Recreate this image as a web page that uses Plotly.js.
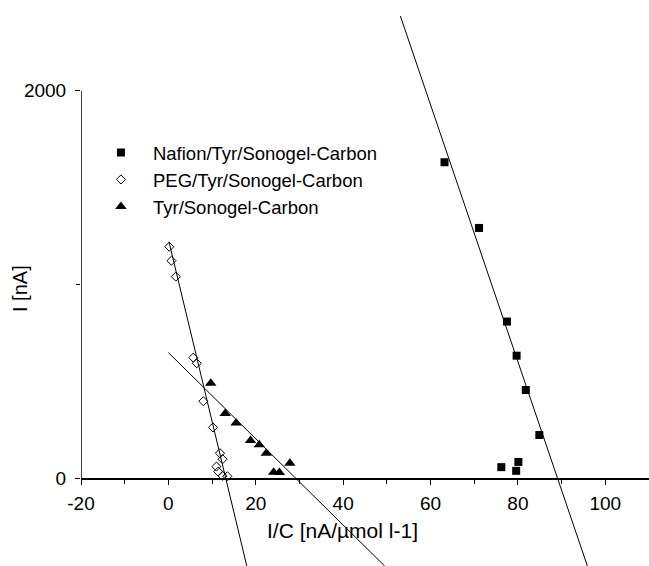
<!DOCTYPE html>
<html>
<head>
<meta charset="utf-8">
<script src="https://cdn.plot.ly/plotly-3.0.1.min.js"></script>
<style>html,body{margin:0;padding:0;background:#fff;}#chart{width:649px;height:566px;}</style>
</head>
<body>
<div id="chart"></div>
<script>
// Nafion/Tyr/Sonogel-Carbon (filled squares)
var nafionX = [63.2, 71.1, 77.5, 79.7, 81.8, 84.9, 76.2, 80.1, 79.6];
var nafionY = [1631, 1292, 809, 633, 456, 224, 58, 85, 39];
// PEG/Tyr/Sonogel-Carbon (open diamonds)
var pegX = [0.2, 0.7, 1.7, 5.7, 6.5, 8.0, 10.2, 11.8, 12.4, 11.0, 11.4, 12.4, 13.5];
var pegY = [1195, 1123, 1041, 623, 594, 398, 263, 130, 99, 61, 35, 13, 11];
// Tyr/Sonogel-Carbon (filled triangles)
var tyrX = [9.7, 13.0, 15.5, 18.8, 20.8, 22.4, 27.8, 24.1, 25.4];
var tyrY = [491, 335, 286, 195, 173, 130, 78, 32, 30];
// fitted lines (end points)
var nafionFitX = [53.1, 95.9];
var nafionFitY = [2385, -452];
var pegFitX = [0.13, 17.95];
var pegFitY = [1221, -452];
var tyrFitX = [0.0, 49.5];
var tyrFitY = [649, -452];
// axes
var xTicks = [-20, 0, 20, 40, 60, 80, 100];
var xTickLabels = ['-20', '0', '20', '40', '60', '80', '100'];
var xMinor = [-10, 10, 30, 50, 70, 90, 110];
var yTicks = [0, 2000];
var yTickLabels = ['0', '2000'];
var yMinor = [1000];

var font = "Liberation Sans, Arial, sans-serif";
var traces = [
  {x: nafionX, y: nafionY, mode: 'markers', name: 'Nafion/Tyr/Sonogel-Carbon', cliponaxis: false,
   marker: {symbol: 'square', size: 8, color: '#000'}},
  {x: pegX, y: pegY, mode: 'markers', name: 'PEG/Tyr/Sonogel-Carbon', cliponaxis: false,
   marker: {symbol: 'diamond-open', size: 7, color: '#000', line: {width: 1, color: '#000'}}},
  {x: tyrX, y: tyrY, mode: 'markers', name: 'Tyr/Sonogel-Carbon', cliponaxis: false,
   marker: {symbol: 'triangle-up', size: 10, color: '#000'}},
  {x: nafionFitX, y: nafionFitY, mode: 'lines', showlegend: false, line: {color: '#000', width: 1}},
  {x: pegFitX, y: pegFitY, mode: 'lines', showlegend: false, line: {color: '#000', width: 1}},
  {x: tyrFitX, y: tyrFitY, mode: 'lines', showlegend: false, line: {color: '#000', width: 1}}
];

var yMin = -452, yMax = 2468;
var zeroPos = (0 - yMin) / (yMax - yMin);

var layout = {
  width: 649, height: 566,
  margin: {l: 81, r: 0, t: 0, b: 0},
  paper_bgcolor: '#fff', plot_bgcolor: '#fff',
  font: {family: font, size: 18, color: '#000'},
  showlegend: true,
  legend: {x: 0.014, y: 0.7635, xanchor: 'left', yanchor: 'top', bgcolor: 'rgba(0,0,0,0)',
           itemwidth: 54,
           font: {family: font, size: 18.5, color: '#000'}},
  xaxis: {
    range: [-20, 110], anchor: 'free', position: zeroPos,
    showgrid: false, zeroline: false, showline: true, linecolor: '#000', linewidth: 1.5,
    tickmode: 'array', tickvals: xTicks, ticktext: xTickLabels,
    ticks: 'outside', ticklen: 5, tickwidth: 1, tickcolor: '#000', ticklabelstandoff: 2,
    minor: {tickvals: xMinor, ticks: 'outside', ticklen: 4, tickwidth: 1, tickcolor: '#000'},
    tickfont: {family: font, size: 19, color: '#000'}
  },
  yaxis: {
    range: [yMin, yMax], showgrid: false, zeroline: false, showline: false,
    tickmode: 'array', tickvals: yTicks, ticktext: yTickLabels,
    ticks: 'outside', ticklen: 5, tickwidth: 1, tickcolor: '#000', ticklabelstandoff: 5,
    minor: {tickvals: yMinor, ticks: 'outside', ticklen: 4, tickwidth: 1, tickcolor: '#000'},
    tickfont: {family: font, size: 19, color: '#000'}
  },
  annotations: [
    {text: 'I/C [nA/µmol l-1]', xref: 'paper', yref: 'paper', x: 0.461, y: (566 - 530) / 566,
     xanchor: 'center', yanchor: 'middle', showarrow: false,
     font: {family: font, size: 21, color: '#000'}},
    {text: 'I [nA]', xref: 'paper', yref: 'paper', x: (20 - 81) / 568, y: (566 - 289) / 566,
     xanchor: 'center', yanchor: 'middle', showarrow: false, textangle: -90,
     font: {family: font, size: 20, color: '#000'}}
  ],
  shapes: [
    {type: 'line', xref: 'x', yref: 'y', x0: -20, x1: -20, y0: 0, y1: 2000, line: {color: '#000', width: 1.5}}
  ]
};

Plotly.newPlot('chart', traces, layout, {staticPlot: true, displayModeBar: false});
</script>
</body>
</html>
